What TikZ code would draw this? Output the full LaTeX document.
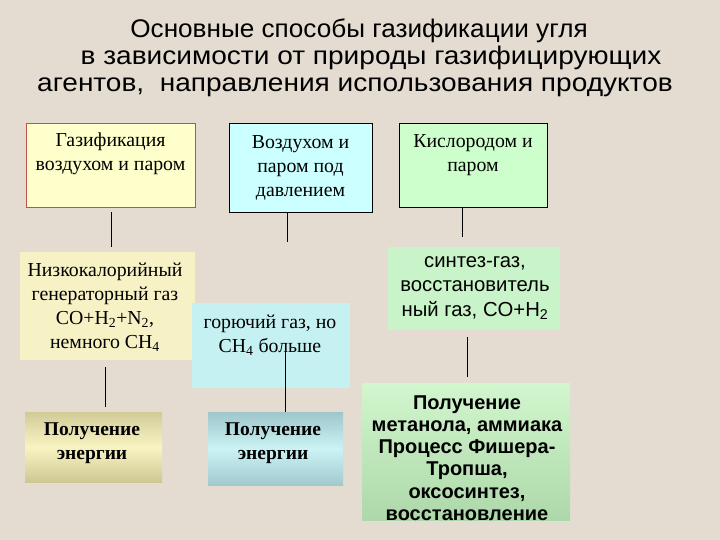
\documentclass[tikz,border=0pt]{standalone}
\usepackage{fontspec}
\setmainfont{Liberation Serif}
\setsansfont{Liberation Sans}
\usetikzlibrary{positioning}
\definecolor{paper}{HTML}{E4DCD0}
\definecolor{lemon}{HTML}{FFFFCC}
\definecolor{lemonsoft}{HTML}{F7F2C6}
\definecolor{aqua}{HTML}{CCFFFF}
\definecolor{aquasoft}{HTML}{C6F1F3}
\definecolor{mint}{HTML}{CCFFCC}
\definecolor{mintsoft}{HTML}{C9F3C8}
\definecolor{rimred}{HTML}{C0504D}
\definecolor{goldtop}{HTML}{D2CB98}
\definecolor{goldmid}{HTML}{F8F4C2}
\definecolor{goldbot}{HTML}{CEC792}
\definecolor{icetop}{HTML}{9EC7CB}
\definecolor{icemid}{HTML}{CBF3F6}
\definecolor{icebot}{HTML}{A2C9CD}
\definecolor{leaftop}{HTML}{D2F6CE}
\definecolor{leafbot}{HTML}{ADD8A9}

\begin{document}
\begin{tikzpicture}[x=1pt, y=-1pt,
    box/.style={rectangle, inner sep=0pt, anchor=north west},
    serif/.style={align=center, inner sep=0pt, font=\fontsize{19.8}{24}\selectfont},
    serifbold/.style={align=center, inner sep=0pt, font=\fontsize{19.5}{23.5}\selectfont\bfseries},
    sans/.style={align=center, inner sep=0pt, font=\sffamily\fontsize{20.3}{24.5}\selectfont},
    sansbold/.style={align=center, inner sep=0pt, font=\sffamily\bfseries\fontsize{20}{22.3}\selectfont},
    heading/.style={inner sep=0pt, anchor=base, font=\sffamily\fontsize{25.5}{28}\selectfont}]
    \fill[paper] (0,0) rectangle (720,540);
    \useasboundingbox (0,0) rectangle (720,540);

    \node[heading] (title1) at (359,38) {\scalebox{1.025}[1]{Основные способы газификации угля}};
    \node[heading] (title2) at (371,65) {\scalebox{1.1}[1]{в зависимости от природы газифицирующих}};
    \node[heading] (title3) at (355,92) {\scalebox{1.1}[1]{агентов,\ \ направления использования продуктов}};

    \node[box, draw=rimred, fill=lemon, minimum width=169, minimum height=84] (air) at (26,123) {};
    \node[serif] (airT) at (110.5,154) {Газификация\\воздухом и паром};
    \node[box, draw=black, fill=aqua, minimum width=143, minimum height=89] (press) at (229,123) {};
    \node[serif] (pressT) at (300.5,167.5) {Воздухом и\\паром под\\давлением};
    \node[box, draw=black, fill=mint, minimum width=148, minimum height=84] (oxy) at (399,123) {};
    \node[serif] (oxyT) at (473,155) {Кислородом и\\паром};

    \node[box, fill=lemonsoft, minimum width=175, minimum height=108] (low) at (20,252) {};
    \node[serif] (lowT) at (105,307) {Низкокалорийный\\генераторный газ\\CO+H\textsubscript{2}+N\textsubscript{2},\\немного CH\textsubscript{4}};
    \node[box, fill=aquasoft, minimum width=158, minimum height=85] (fuel) at (192,303) {};
    \node[serif] (fuelT) at (270,335) {горючий газ, но\\CH\textsubscript{4} больше};
    \node[box, fill=mintsoft, minimum width=172, minimum height=83] (syn) at (388,247) {};
    \node[sans] (synT) at (475,288) {синтез-газ,\\восстановитель\\ный газ, CO+H\textsubscript{2}};

    \node[box, top color=goldtop, bottom color=goldbot, middle color=goldmid,
        minimum width=137, minimum height=70] (en1) at (25,412) {};
    \node[serifbold] (en1T) at (92,443) {Получение\\энергии};
    \node[box, top color=icetop, bottom color=icebot, middle color=icemid,
        minimum width=135, minimum height=73] (en2) at (208,412) {};
    \node[serifbold] (en2T) at (273,443) {Получение\\энергии};
    \node[box, top color=leaftop, bottom color=leafbot,
        minimum width=208, minimum height=137] (prod) at (362,383) {};
    \node[sansbold] (prodT) at (467,458) {Получение\\метанола, аммиака\\Процесс Фишера-\\Тропша,\\оксосинтез,\\восстановление};

    \coordinate (pressEnd) at (287,242);
    \coordinate (oxyEnd) at (462,237);
    \coordinate (fuelStart) at (285,352);
    \draw[shorten <=5pt, shorten >=5pt] (air.south) -- (air.south |- low.north);
    \draw (press.south -| pressEnd) -- (pressEnd);
    \draw (oxy.south -| oxyEnd) -- (oxyEnd);
    \draw[shorten <=7pt, shorten >=5pt] (lowT |- low.south) -- (lowT |- en1.north);
    \draw (fuelStart) -- (fuelStart |- en2.north);
    \draw[shorten <=7pt, shorten >=6pt] (prodT |- syn.south) -- (prodT |- prod.north);
\end{tikzpicture}
\end{document}
